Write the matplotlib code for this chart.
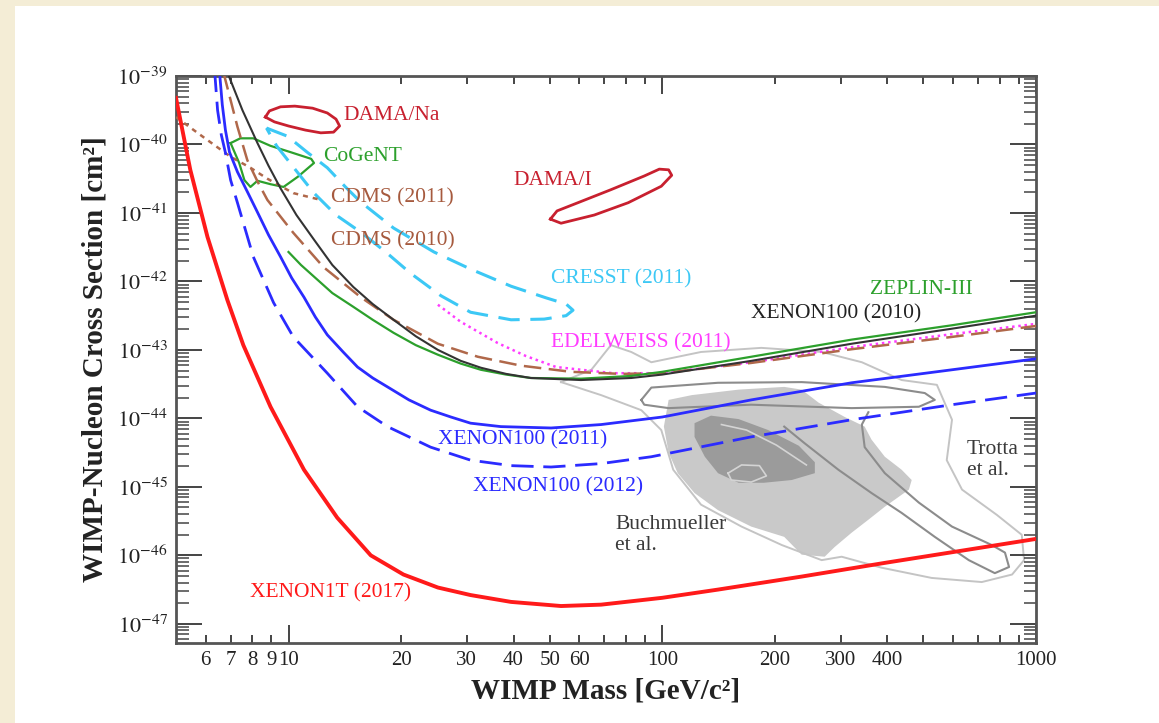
import numpy as np
import matplotlib
matplotlib.use("Agg")
from matplotlib import pyplot
from matplotlib.ticker import FuncFormatter, NullFormatter, FixedLocator
from matplotlib.patches import Rectangle

# values: WIMP mass [GeV], log10 of cross section [cm^2]
xenon1t_m = [5.0, 5.46, 6.07, 6.86, 7.57, 8.95, 11.0, 13.5, 16.6, 20.3, 25.1, 30.7,
             39.4, 53.6, 68.6, 100, 141, 236, 394, 1000]
xenon1t_s = [-39.32, -40.37, -41.35, -42.27, -42.93, -43.83, -44.75, -45.45, -46.00,
             -46.28, -46.47, -46.58, -46.68, -46.74, -46.72, -46.62, -46.50, -46.31,
             -46.11, -45.76]

x100_2011_m = [6.53, 6.65, 6.78, 6.95, 7.30, 7.76, 8.26, 8.84, 9.52, 10.2, 11.0, 11.8, 12.7,
               14.0, 15.3, 16.8, 18.4, 21.0, 24.0, 27.2, 30.7, 37.0, 50.4, 68.6, 100, 173,
               321, 596, 1000]
x100_2011_s = [-38.91, -39.42, -39.79, -40.11, -40.40, -40.69, -40.99, -41.32, -41.64, -41.95,
               -42.23, -42.52, -42.78, -43.03, -43.25, -43.41, -43.54, -43.73, -43.88, -43.98,
               -44.07, -44.12, -44.14, -44.09, -43.98, -43.73, -43.48, -43.29, -43.13]

x100_2012_m = [6.34, 6.46, 6.61, 6.78, 7.00, 7.30, 8.05, 9.12, 10.3, 12.7, 15.3, 18.4, 24.0,
               30.7, 39.4, 50.4, 68.6, 93.5, 173, 321, 596, 1000]
x100_2012_s = [-38.91, -39.50, -39.86, -40.12, -40.52, -40.85, -41.64, -42.31, -42.81, -43.34,
               -43.83, -44.12, -44.42, -44.61, -44.69, -44.71, -44.66, -44.56, -44.27, -44.02,
               -43.80, -43.63]

x100_2010_m = [6.82, 7.53, 8.26, 8.84, 9.52, 10.5, 11.7, 13.1, 14.9, 16.8, 19.1, 21.9, 25.1,
               28.9, 32.7, 38.2, 44.5, 60.6, 82.6, 100, 173, 321, 596, 1000]
x100_2010_s = [-38.91, -39.50, -39.98, -40.31, -40.64, -41.03, -41.39, -41.76, -42.08, -42.33,
               -42.56, -42.80, -43.00, -43.16, -43.26, -43.35, -43.41, -43.44, -43.41, -43.36,
               -43.16, -42.91, -42.69, -42.50]

zeplin_m = [10.0, 10.8, 11.7, 13.1, 14.9, 16.8, 19.1, 21.9, 25.1, 28.9, 32.7, 38.2, 44.5,
            60.6, 82.6, 100, 173, 321, 596, 1000]
zeplin_s = [-41.57, -41.76, -41.93, -42.17, -42.37, -42.56, -42.75, -42.93, -43.07, -43.20,
            -43.29, -43.36, -43.41, -43.42, -43.38, -43.32, -43.10, -42.85, -42.64, -42.45]

cdms2010_m = [6.70, 7.30, 7.76, 8.26, 8.78, 10.3, 12.4, 15.6, 19.1, 25.1, 32.1, 41.9, 57.0,
              77.6, 100, 173, 321, 596, 1000]
cdms2010_s = [-38.95, -39.74, -40.23, -40.54, -40.81, -41.29, -41.79, -42.23, -42.56, -42.91,
              -43.10, -43.23, -43.32, -43.35, -43.34, -43.19, -42.99, -42.81, -42.65]

cdms2011_m = [5.0, 5.91, 7.0, 7.91, 8.78, 10.3, 12.0]
cdms2011_s = [-39.60, -39.89, -40.18, -40.34, -40.50, -40.71, -40.80]

edelweiss_m = [25.1, 28.9, 36.3, 43.2, 52.0, 73.9, 100, 173, 321, 596, 1000]
edelweiss_s = [-42.34, -42.59, -42.90, -43.09, -43.25, -43.34, -43.34, -43.18, -42.96,
               -42.77, -42.62]

# closed regions
cogent_m = [7.00, 7.43, 8.05, 8.95, 10.1, 11.5, 11.7, 10.6, 9.70, 8.95, 8.26, 7.91, 7.62, 7.38]
cogent_s = [-39.98, -39.91, -39.91, -40.02, -40.11, -40.21, -40.27, -40.47, -40.62,
            -40.58, -40.53, -40.62, -40.52, -40.27]

dama_na_m = [8.67, 8.89, 9.52, 10.4, 11.6, 12.7, 13.4, 13.7, 13.2, 12.2, 11.1, 10.0, 9.17]
dama_na_s = [-39.60, -39.51, -39.45, -39.44, -39.47, -39.54, -39.63, -39.73, -39.82,
             -39.83, -39.79, -39.73, -39.67]

dama_i_m = [50.2, 52.3, 59.5, 72.9, 89.5, 98.2, 104, 106, 99.4, 81.1, 65.8, 53.6]
dama_i_s = [-41.09, -40.97, -40.85, -40.66, -40.46, -40.36, -40.37, -40.45, -40.61,
            -40.85, -41.03, -41.15]

cresst_m = [8.73, 9.94, 11.2, 12.7, 14.2, 15.6, 19.1, 24.5, 30.7, 39.4, 48.9, 55.3, 57.7,
            55.3, 48.3, 39.4, 30.7, 25.6, 21.2, 18.2, 15.6, 13.4, 11.7, 10.3, 9.29]
cresst_s = [-39.76, -39.88, -40.11, -40.34, -40.62, -40.84, -41.22, -41.57, -41.82,
            -42.07, -42.24, -42.33, -42.42, -42.50, -42.55, -42.56, -42.45, -42.21,
            -41.88, -41.57, -41.28, -41.03, -40.71, -40.33, -40.02]

# Buchmueller et al. (filled) and Trotta et al. (lines)
buch_outer_m = [104, 120, 160, 212, 236, 262, 308, 348, 363, 394, 437, 465, 457, 394, 356,
                321, 289, 272, 236, 212, 173, 141, 122, 110, 104, 101]
buch_outer_s = [-43.73, -43.66, -43.58, -43.54, -43.58, -43.77, -43.98, -44.12, -44.31,
                -44.56, -44.75, -44.90, -45.04, -45.29, -45.48, -45.67, -45.88, -46.02,
                -45.99, -45.73, -45.58, -45.34, -45.09, -44.80, -44.50, -44.12]
buch_core_m = [122, 135, 160, 192, 232, 256, 256, 222, 187, 160, 141, 130, 122]
buch_core_s = [-44.07, -43.96, -44.01, -44.17, -44.40, -44.64, -44.80, -44.90, -44.94,
               -44.94, -44.80, -44.56, -44.27]
core_line_m = [144, 168, 202, 243]
core_line_s = [-44.09, -44.17, -44.39, -44.68]
core_loop_m = [150, 163, 182, 190, 173, 153]
core_loop_s = [-44.80, -44.68, -44.69, -44.84, -44.93, -44.90]

oval_m = [87.9, 93.5, 141, 236, 394, 504, 536, 486, 321, 173, 104, 89.5]
oval_s = [-43.73, -43.55, -43.48, -43.47, -43.54, -43.63, -43.73, -43.83, -43.85,
          -43.80, -43.85, -43.80]
tail_m = [212, 240, 296, 363, 437, 536, 661, 776, 847, 826, 762, 596, 486, 394, 348, 342, 356]
tail_s = [-44.12, -44.36, -44.75, -45.09, -45.38, -45.73, -46.07, -46.26, -46.17, -45.96,
          -45.85, -45.58, -45.23, -44.80, -44.42, -44.09, -43.91]
trotta_m = [53.6, 64.6, 72.9, 82.6, 93.5, 127, 184, 267, 342, 437, 543, 596, 577, 634,
            786, 916, 929, 863, 716, 526, 386, 302, 267, 209, 163, 127, 107, 99.4, 87.9, 68.6]
trotta_s = [-43.47, -43.29, -42.93, -43.03, -43.18, -43.03, -42.97, -43.03, -43.18,
            -43.44, -43.51, -44.02, -44.61, -45.04, -45.41, -45.70, -46.07, -46.28,
            -46.39, -46.33, -46.18, -46.02, -46.07, -45.85, -45.58, -45.26, -44.75,
            -44.17, -43.88, -43.66]

mass_tick_labels = [6, 7, 8, 9, 10, 20, 30, 40, 50, 60, 100, 200, 300, 400, 1000]
sigma_decades = list(range(-47, -38))

# labels: text, mass, log10 sigma, colour
labels = [
    ("DAMA/Na", 14.0, -39.58, "#c8202f"),
    ("CoGeNT", 12.4, -40.18, "#2ca02c"),
    ("CDMS (2011)", 13.0, -40.78, "#a65a3e"),
    ("CDMS (2010)", 13.0, -41.41, "#a65a3e"),
    ("DAMA/I", 40.1, -40.52, "#c8202f"),
    ("CRESST (2011)", 50.4, -41.96, "#3cc8f5"),
    ("ZEPLIN-III", 359, -42.12, "#2ca02c"),
    ("XENON100 (2010)", 173, -42.47, "#222222"),
    ("EDELWEISS (2011)", 50.4, -42.90, "#ff3cff"),
    ("XENON100 (2011)", 25.1, -44.31, "#2b2bff"),
    ("XENON100 (2012)", 31.1, -45.0, "#2b2bff"),
    ("Trotta\net al.", 653, -44.61, "#3a3a3a"),
    ("Buchmueller\net al.", 74.8, -45.70, "#3a3a3a"),
    ("XENON1T (2017)", 7.91, -46.55, "#ff1a1a"),
]


def sig(v):
    return 10.0 ** np.array(v)


def closed(m, s):
    return list(m) + [m[0]], list(s) + [s[0]]


def main():
    pyplot.rcParams["font.family"] = ["Liberation Serif", "DejaVu Serif"]
    pyplot.rcParams["mathtext.fontset"] = "stix"

    fig = pyplot.figure(figsize=(11.59, 7.23), dpi=100, facecolor="#f4edd6")
    fig.patches.append(Rectangle((15 / 1159, 0), 1, 717 / 723, transform=fig.transFigure,
                                 facecolor="white", edgecolor="none", zorder=-10))
    ax = fig.add_axes([176 / 1159, 1 - 643 / 723, 860 / 1159, 567 / 723])
    ax.set_zorder(1)
    ax.set_xscale("log")
    ax.set_yscale("log")

    # gray regions
    ax.fill(buch_outer_m, sig(buch_outer_s), color="#c9c9c9", lw=0, zorder=1)
    ax.fill(buch_core_m, sig(buch_core_s), color="#9b9b9b", lw=0, zorder=1.1)
    ax.plot(core_line_m, sig(core_line_s), color="#d4d4d4", lw=1.2, zorder=1.2)
    m, s = closed(core_loop_m, core_loop_s)
    ax.plot(m, sig(s), color="#d4d4d4", lw=1.2, zorder=1.2)
    m, s = closed(trotta_m, trotta_s)
    ax.plot(m, sig(s), color="#c4c4c4", lw=1.4, zorder=1.3)
    m, s = closed(oval_m, oval_s)
    ax.plot(m, sig(s), color="#8c8c8c", lw=1.5, zorder=1.4)
    ax.plot(tail_m, sig(tail_s), color="#8c8c8c", lw=1.5, zorder=1.4)

    # closed signal regions
    m, s = closed(dama_na_m, dama_na_s)
    ax.plot(m, sig(s), color="#c8202f", lw=2.0, zorder=3)
    m, s = closed(dama_i_m, dama_i_s)
    ax.plot(m, sig(s), color="#c8202f", lw=2.0, zorder=3)
    m, s = closed(cogent_m, cogent_s)
    ax.plot(m, sig(s), color="#2ca02c", lw=1.6, zorder=3)
    m, s = closed(cresst_m, cresst_s)
    ax.plot(m, sig(s), color="#3cc8f5", lw=2.2, dashes=(7, 3.5), zorder=3)

    # exclusion limits
    ax.plot(cdms2011_m, sig(cdms2011_s), color="#b0684a", lw=1.8, dashes=(2, 2), zorder=3)
    ax.plot(edelweiss_m, sig(edelweiss_s), color="#ff3cff", lw=1.8, dashes=(1, 1.5), zorder=3)
    ax.plot(cdms2010_m, sig(cdms2010_s), color="#b0684a", lw=1.8, dashes=(7, 3), zorder=3.1)
    ax.plot(zeplin_m, sig(zeplin_s), color="#2ca02c", lw=1.6, zorder=3.2)
    ax.plot(x100_2010_m, sig(x100_2010_s), color="#333333", lw=1.5, zorder=3.3)
    ax.plot(x100_2011_m, sig(x100_2011_s), color="#2b2bff", lw=2.0, zorder=3.4)
    ax.plot(x100_2012_m, sig(x100_2012_s), color="#2b2bff", lw=2.0, dashes=(8, 3.5), zorder=3.4)
    ax.plot(xenon1t_m, sig(xenon1t_s), color="#ff1a1a", lw=2.8, zorder=3.5,
            solid_joinstyle="round")

    for text, m, s, c in labels:
        ax.text(m, 10.0 ** s, text, color=c, fontsize=15.5, ha="left", va="center",
                linespacing=1.15, zorder=4)

    ax.set_xlim(5, 1000)
    ax.set_ylim(10.0 ** -47.28, 1e-39)

    ax.xaxis.set_major_locator(FixedLocator([10, 100, 1000]))
    minor_x = [k * d for d in (1, 10, 100) for k in range(2, 10) if 5 < k * d < 1000]
    ax.xaxis.set_minor_locator(FixedLocator(minor_x))
    lab = FuncFormatter(lambda v, p: "%d" % round(v) if round(v) in mass_tick_labels else "")
    ax.xaxis.set_major_formatter(lab)
    ax.xaxis.set_minor_formatter(lab)
    ax.yaxis.set_major_locator(FixedLocator([10.0 ** k for k in sigma_decades]))
    minor_y = [k * 10.0 ** d for d in range(-48, -39) for k in range(2, 10)
               if k * 10.0 ** d > 10.0 ** -47.28]
    ax.yaxis.set_minor_locator(FixedLocator(minor_y))
    ax.yaxis.set_major_formatter(FuncFormatter(lambda v, p: "$10^{%d}$" % round(np.log10(v))))
    ax.yaxis.set_minor_formatter(NullFormatter())

    ax.tick_params(axis="x", which="major", direction="in", length=13, width=1.4,
                   top=True, labelsize=15, pad=6, colors="#444444", labelcolor="#222222")
    ax.tick_params(axis="x", which="minor", direction="in", length=6, width=1.4,
                   top=True, labelsize=15, pad=6, colors="#444444", labelcolor="#222222")
    ax.tick_params(axis="y", which="major", direction="in", length=19, width=1.4,
                   right=True, labelsize=16, pad=6, colors="#444444", labelcolor="#222222")
    ax.tick_params(axis="y", which="minor", direction="in", length=9, width=1.1,
                   right=True, colors="#444444")
    for sp in ax.spines.values():
        sp.set_color("#555555")
        sp.set_linewidth(2)

    ax.set_xlabel("WIMP Mass [GeV/c²]", fontsize=21, fontweight="bold", labelpad=5,
                  color="#222222")
    ax.set_ylabel("WIMP-Nucleon Cross Section [cm²]", fontsize=21, fontweight="bold",
                  labelpad=6, color="#222222")

    fig.savefig("out.png", dpi=100, facecolor=fig.get_facecolor())


if __name__ == '__main__':
    main()
